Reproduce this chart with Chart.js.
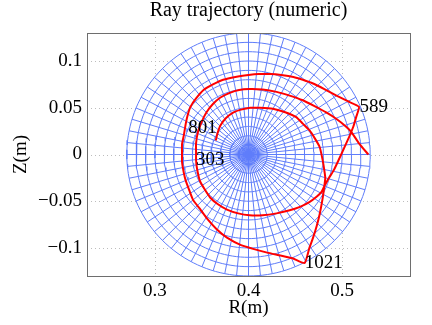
<!DOCTYPE html>
<html><head><meta charset="utf-8">
<script src="https://cdn.jsdelivr.net/npm/chart.js@4.4.0/dist/chart.umd.min.js"></script>
<style>html,body{margin:0;padding:0;background:#fff;} #wrap{width:432px;height:325px;}</style>
</head><body><div id="wrap"><canvas id="c" width="432" height="325"></canvas></div>
<script>
const titleText = 'Ray trajectory (numeric)';
const xTitle = 'R(m)';
const yTitle = 'Z(m)';
const xTickValues = [0.3, 0.4, 0.5];
const xTickLabels = ['0.3', '0.4', '0.5'];
const yTickValues = [-0.1, -0.05, 0, 0.05, 0.1];
const yTickLabels = ['\u22120.1', '\u22120.05', '0', '0.05', '0.1'];
const xRange = [0.2275, 0.5725];
const yRange = [-0.13, 0.13];

// flux-surface mesh
const meshCenterR = 0.4, meshCenterZ = 0;
const meshRadii = [0.01, 0.02, 0.03, 0.04, 0.05, 0.06, 0.07, 0.08, 0.09, 0.10, 0.11, 0.12, 0.13];
const meshSpokes = 64;

// ray trajectory
const rayR = [
  0.528, 0.518, 0.510, 0.504, 0.494, 0.483, 0.470, 0.458, 0.444, 0.430, 0.415, 0.401, 0.390, 0.380, 0.370, 0.362, 0.355, 0.350, 0.346, 0.344, 0.344, 0.344,
  0.345, 0.348, 0.353, 0.359, 0.367, 0.377, 0.389, 0.401, 0.415, 0.430, 0.443, 0.455, 0.465, 0.473, 0.478, 0.481,
  0.486, 0.491, 0.499, 0.508, 0.512, 0.515, 0.518,
  0.506, 0.494, 0.481, 0.469, 0.458, 0.448, 0.435, 0.423, 0.411, 0.400, 0.386, 0.373, 0.362, 0.352, 0.344, 0.338, 0.335, 0.333,
  0.331, 0.329, 0.329, 0.329, 0.331, 0.333, 0.337, 0.341, 0.348, 0.356, 0.366, 0.377, 0.392, 0.405, 0.420, 0.434, 0.447, 0.460,
  0.465, 0.469, 0.473, 0.476, 0.479, 0.481,
  0.482, 0.481, 0.479, 0.476, 0.471, 0.465, 0.458, 0.451, 0.440, 0.426, 0.412, 0.402, 0.392, 0.384, 0.376, 0.370, 0.367, 0.365
];
const rayZ = [
  0.000, 0.012, 0.024, 0.030, 0.038, 0.045, 0.052, 0.058, 0.063, 0.067, 0.0695, 0.070, 0.069, 0.066, 0.061, 0.054, 0.045, 0.035, 0.024, 0.012, 0.000, -0.006,
  -0.015, -0.028, -0.037, -0.046, -0.053, -0.059, -0.063, -0.065, -0.065, -0.063, -0.060, -0.056, -0.051, -0.045, -0.040, -0.034,
  -0.025, -0.017, 0.000, 0.020, 0.030, 0.040, 0.051,
  0.057, 0.063, 0.070, 0.076, 0.080, 0.083, 0.085, 0.086, 0.086, 0.085, 0.083, 0.080, 0.075, 0.069, 0.060, 0.051, 0.042, 0.033,
  0.021, 0.011, 0.000, -0.008, -0.020, -0.028, -0.039, -0.049, -0.058, -0.069, -0.080, -0.089, -0.097, -0.101, -0.105, -0.108, -0.111, -0.116,
  -0.100, -0.089, -0.076, -0.064, -0.048, -0.034,
  -0.025, -0.017, -0.005, 0.008, 0.017, 0.026, 0.033, 0.040, 0.045, 0.049, 0.050, 0.050, 0.048, 0.045, 0.039, 0.031, 0.023, 0.015
];

// step labels
const labelText = ['303', '801', '589', '1021'];
const labelR = [0.344, 0.3356, 0.5185, 0.460];
const labelZ = [-0.006, 0.0284, 0.0509, -0.1157];

const FONT = "'Liberation Serif', 'Times New Roman', serif";
const meshColor = 'rgb(95,125,250)';
const rayColor = 'rgb(255,0,0)';

const datasets = [];
// rings
meshRadii.forEach(r => {
  const pts = [];
  const n = 160;
  for (let i = 0; i <= n; i++) {
    const t = 2 * Math.PI * i / n;
    pts.push({x: meshCenterR + r * Math.cos(t), y: meshCenterZ + r * Math.sin(t)});
  }
  datasets.push({data: pts, showLine: true, borderColor: meshColor, borderWidth: 1, pointRadius: 0, tension: 0, order: 2});
});
// spokes
const rOut = meshRadii[meshRadii.length - 1];
for (let k = 0; k < meshSpokes; k++) {
  const t = 2 * Math.PI * k / meshSpokes;
  datasets.push({data: [{x: meshCenterR, y: meshCenterZ}, {x: meshCenterR + rOut * Math.cos(t), y: meshCenterZ + rOut * Math.sin(t)}],
    showLine: true, borderColor: meshColor, borderWidth: 1, pointRadius: 0, order: 2});
}
// ray
datasets.push({data: rayR.map((r, i) => ({x: r, y: rayZ[i]})), showLine: true, borderColor: rayColor, borderWidth: 2,
  pointRadius: 0, tension: 0.15, order: 1});

const deco = {
  id: 'deco',
  beforeDatasetsDraw(chart) {
    const {ctx, chartArea: a, scales: {x, y}} = chart;
    ctx.save();
    ctx.strokeStyle = '#bdbdbd'; ctx.lineWidth = 1; ctx.setLineDash([1, 3]);
    xTickValues.forEach(v => {
      const px = Math.round(x.getPixelForValue(v)) + 0.5;
      ctx.beginPath(); ctx.moveTo(px, a.top); ctx.lineTo(px, a.bottom); ctx.stroke();
    });
    yTickValues.forEach(v => {
      const py = Math.round(y.getPixelForValue(v)) + 0.5;
      ctx.beginPath(); ctx.moveTo(a.left, py); ctx.lineTo(a.right, py); ctx.stroke();
    });
    // white face of the mesh disk
    ctx.setLineDash([]);
    ctx.fillStyle = '#fff';
    ctx.beginPath();
    ctx.ellipse(x.getPixelForValue(meshCenterR), y.getPixelForValue(meshCenterZ),
      Math.abs(x.getPixelForValue(meshCenterR + rOut) - x.getPixelForValue(meshCenterR)),
      Math.abs(y.getPixelForValue(meshCenterZ + rOut) - y.getPixelForValue(meshCenterZ)), 0, 0, 2 * Math.PI);
    ctx.fill();
    ctx.restore();
  },
  afterDatasetsDraw(chart) {
    const {ctx, chartArea: a, scales: {x, y}} = chart;
    ctx.save();
    ctx.fillStyle = '#000';
    ctx.font = '19px ' + FONT;
    ctx.textAlign = 'left'; ctx.textBaseline = 'middle';
    labelText.forEach((t, i) => {
      ctx.fillText(t, x.getPixelForValue(labelR[i]), y.getPixelForValue(labelZ[i]));
    });
    ctx.strokeStyle = '#6e6e6e'; ctx.lineWidth = 1; ctx.setLineDash([]);
    ctx.strokeRect(Math.round(a.left) + 0.5, Math.round(a.top) + 0.5, Math.round(a.right - a.left), Math.round(a.bottom - a.top));
    ctx.restore();
  }
};

Chart.defaults.color = '#000';
new Chart(document.getElementById('c'), {
  type: 'scatter',
  data: {datasets},
  options: {
    responsive: false, animation: false, events: [],
    layout: {padding: {left: 0, right: 22, top: 0, bottom: 0}},
    plugins: {
      legend: {display: false}, tooltip: {enabled: false},
      title: {display: true, text: titleText, fullSize: false, color: '#000',
        font: {family: FONT, size: 20, weight: 'normal', lineHeight: 1.1}, padding: {top: 0, bottom: 11}}
    },
    scales: {
      x: {type: 'linear', min: xRange[0], max: xRange[1],
        afterBuildTicks: s => { s.ticks = xTickValues.map(v => ({value: v})); },
        afterFit: s => { s.height = 49; },
        grid: {display: false, drawTicks: false}, border: {display: false},
        ticks: {padding: 4, font: {family: FONT, size: 19}, color: '#000',
          callback: (v) => { const i = xTickValues.findIndex(t => Math.abs(t - v) < 1e-9); return i >= 0 ? xTickLabels[i] : ''; }},
        title: {display: true, text: xTitle, font: {family: FONT, size: 19}, color: '#000', padding: {top: 0, bottom: 6}}
      },
      y: {type: 'linear', min: yRange[0], max: yRange[1],
        afterBuildTicks: s => { s.ticks = yTickValues.map(v => ({value: v})); },
        afterFit: s => { s.width = 87; },
        grid: {display: false, drawTicks: false}, border: {display: false},
        ticks: {padding: 5, font: {family: FONT, size: 19}, color: '#000',
          callback: (v) => { const i = yTickValues.findIndex(t => Math.abs(t - v) < 1e-9); return i >= 0 ? yTickLabels[i] : ''; }},
        title: {display: true, text: yTitle, font: {family: FONT, size: 19}, color: '#000', padding: {top: 10, bottom: 0}}
      }
    }
  },
  plugins: [deco]
});
</script></body></html>
